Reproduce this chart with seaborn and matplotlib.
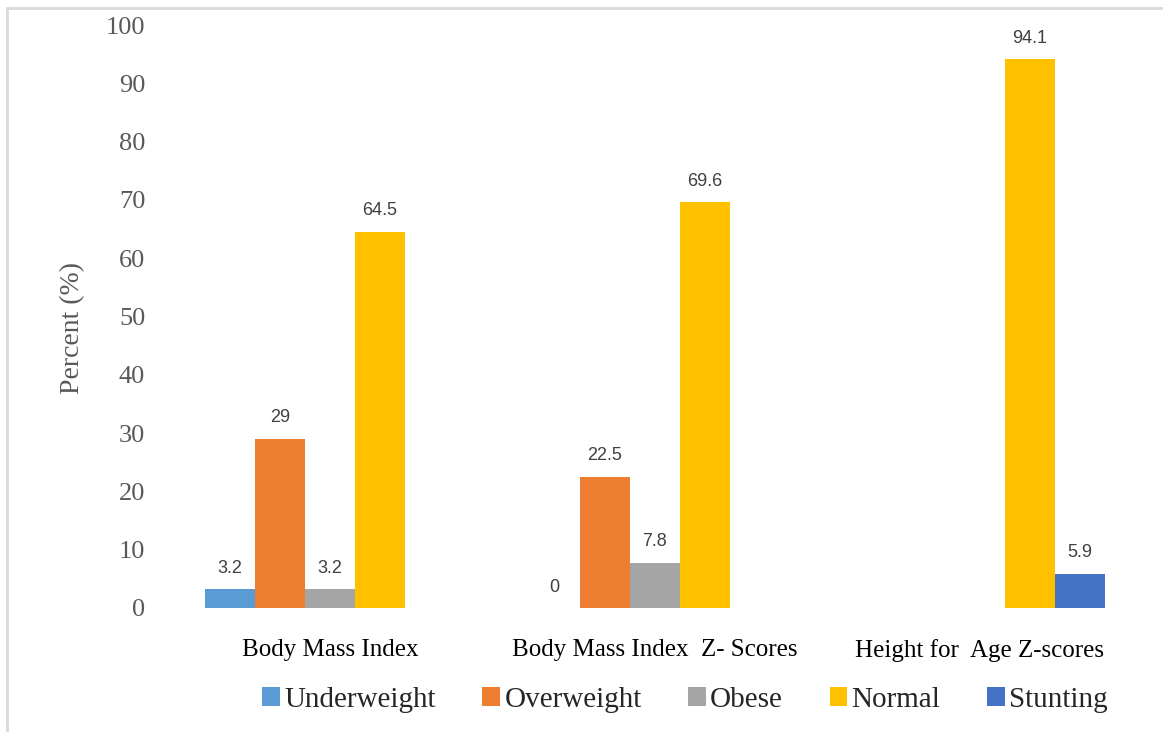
import numpy as np
import pandas as pd
import matplotlib
matplotlib.use("Agg")
import matplotlib.pyplot as plt
from matplotlib.patches import Rectangle
import seaborn as sns

# data
groups = ["Body Mass Index", "Body Mass Index  Z- Scores", "Height for  Age Z-scores"]
statuses = ["Underweight", "Overweight", "Obese", "Normal", "Stunting"]
underweight = [3.2, 0, np.nan]
overweight = [29, 22.5, np.nan]
obese = [3.2, 7.8, np.nan]
normal = [64.5, 69.6, 94.1]
stunting = [np.nan, np.nan, 5.9]
colors = ["#5B9BD5", "#ED7D31", "#A5A5A5", "#FFC000", "#4472C4"]

rows = []
for s, vals in zip(statuses, [underweight, overweight, obese, normal, stunting]):
    for g, v in zip(groups, vals):
        rows.append({"group": g, "status": s, "percent": v})
df = pd.DataFrame(rows).dropna()

sns.set_style("white")
serif = ["Liberation Serif", "DejaVu Serif"]

fig = plt.figure(figsize=(11.63, 7.32), dpi=100)
ax = fig.add_axes([0.144, 1 - 608 / 732, 0.838, 583 / 732])

sns.barplot(data=df, x="group", y="percent", hue="status", order=groups,
            hue_order=statuses, palette=colors, width=0.77, ax=ax,
            errorbar=None, saturation=1, edgecolor="none", linewidth=0)

for c in ax.containers:
    ax.bar_label(c, fmt="{:g}", padding=9, fontsize=13,
                 color="#404040", family="Liberation Sans")

ax.set_ylim(0, 100)
ax.set_xlim(-0.5, 2.5)
ax.set_yticks(range(0, 101, 10))
ax.tick_params(axis="y", length=0, pad=16, labelsize=19, labelcolor="#595959")
ax.tick_params(axis="x", length=0, pad=22, labelsize=18, labelcolor="black")
for lab in ax.get_yticklabels() + ax.get_xticklabels():
    lab.set_family(serif)
ax.set_xlabel("")
ax.set_ylabel("Percent (%)", fontsize=20, color="#595959", family=serif)
ax.yaxis.set_label_coords(-0.085, 0.48)
sns.despine(ax=ax, left=True, bottom=True)

handles, labels = ax.get_legend_handles_labels()
ax.get_legend().remove()
fig.legend(handles, labels, loc="center", bbox_to_anchor=(0.589, 1 - 700 / 732),
           ncol=5, frameon=False, prop={"family": serif, "size": 21},
           handlelength=0.6, handleheight=0.6, handletextpad=0.15, columnspacing=1.6)

fig.patches.append(Rectangle((7 / 1163, -0.1), 1.2, 1 - 8 / 732 + 0.1,
                             transform=fig.transFigure, fill=False,
                             edgecolor="#D9D9D9", linewidth=2))

fig.savefig("out.png", dpi=100)
